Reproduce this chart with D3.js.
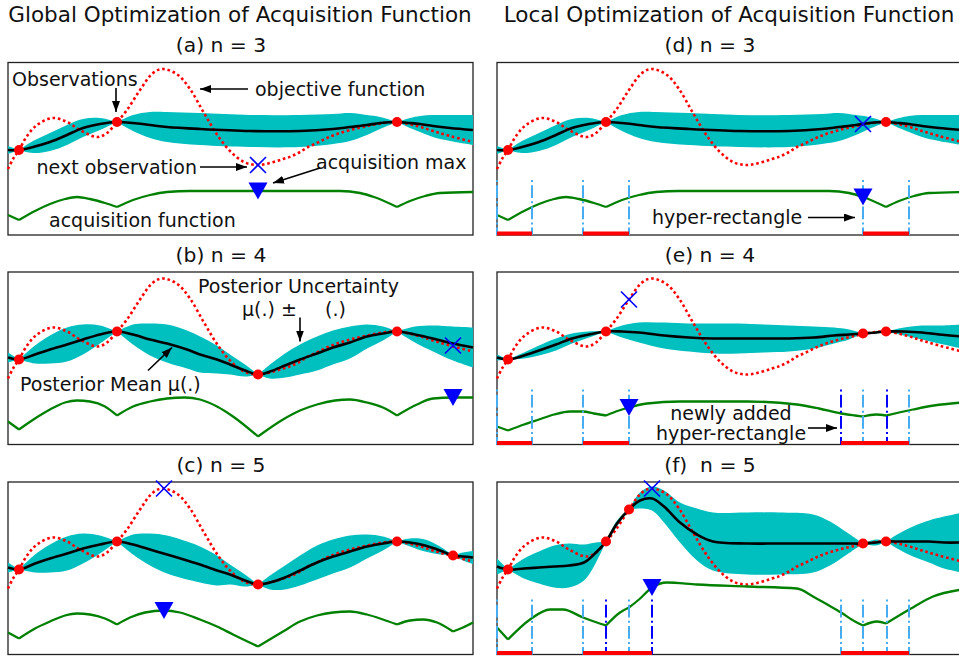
<!DOCTYPE html>
<html lang="en">
<head>
<meta charset="UTF-8">
<title>Global vs Local Optimization of Acquisition Function</title>
<script src="https://d3js.org/d3.v7.min.js"></script>
<style>
    body { margin: 0; background: #fff; }
    #canvas { display: block; font-family: "DejaVu Sans", sans-serif; }
</style>
</head>
<body>
<svg id="canvas" width="959" height="658"></svg>
<script>
// objective function, shared by all panels: [x, f(x)]
const objective = [[0,.66],[.05,.76],[.11,.85],[.19,.99],[.29,1.10],[.45,1.17],[.59,1.13],[.72,1.05],[.89,.98],[.99,1.02],
    [1.09,1.13],[1.19,1.25],[1.32,1.45],[1.45,1.62],[1.55,1.66],[1.70,1.60],[1.82,1.46],[1.96,1.22],[2.10,.99],[2.23,.83],
    [2.36,.73],[2.49,.70],[2.62,.72],[2.75,.76],[2.84,.79],[2.92,.83],[3.00,.88],[3.09,.92],[3.19,.97],[3.29,1.01],
    [3.42,1.05],[3.55,1.08],[3.69,1.11],[3.89,1.13],[4.09,1.09],[4.25,1.04],[4.42,.99],[4.65,.93]];

// posterior: [x, mean, std]
const gpA = [[0,.85,.04],[.11,.85,0],[.25,.88,.06],[.42,.93,.09],[.59,1.00,.10],[.75,1.07,.09],[.92,1.11,.06],[1.09,1.13,0],
    [1.25,1.12,.08],[1.42,1.10,.13],[1.59,1.08,.15],[1.92,1.06,.16],[2.42,1.04,.16],[2.92,1.04,.16],[3.25,1.06,.15],[3.42,1.08,.14],
    [3.59,1.10,.10],[3.72,1.12,.06],[3.89,1.13,0],[4.02,1.12,.05],[4.12,1.11,.08],[4.25,1.09,.11],[4.42,1.07,.13],[4.65,1.05,.15]];
const gpB = [[0,.87,.05],[.11,.85,0],[.27,.90,.09],[.42,.95,.14],[.59,1.00,.17],[.75,1.05,.15],[.92,1.10,.09],[1.09,1.13,0],
    [1.25,1.10,.10],[1.42,1.05,.16],[1.59,1.01,.19],[1.79,.95,.19],[1.92,.90,.18],[2.09,.85,.14],[2.22,.80,.10],[2.37,.74,.06],
    [2.50,.70,0],[2.62,.73,.07],[2.77,.79,.12],[2.92,.85,.15],[3.09,.91,.17],[3.25,.97,.17],[3.42,1.02,.16],[3.59,1.08,.12],
    [3.75,1.11,.07],[3.89,1.13,0],[4.07,1.10,.08],[4.25,1.06,.13],[4.45,1.01,.17],[4.65,.97,.20]];
const gpC = [[0,.87,.05],[.11,.85,0],[.27,.91,.09],[.42,.96,.14],[.59,1.01,.17],[.75,1.06,.15],[.92,1.10,.09],[1.09,1.13,0],
    [1.25,1.10,.10],[1.42,1.05,.16],[1.59,1.00,.19],[1.79,.94,.19],[1.92,.90,.18],[2.09,.84,.15],[2.22,.80,.10],[2.37,.74,.06],
    [2.50,.70,0],[2.62,.72,.07],[2.77,.77,.12],[2.92,.84,.15],[3.09,.92,.17],[3.25,.98,.17],[3.42,1.03,.16],[3.59,1.08,.12],
    [3.75,1.11,.07],[3.89,1.13,0],[4.02,1.12,.04],[4.17,1.09,.06],[4.32,1.04,.04],[4.45,.99,0],[4.55,.98,.04],[4.65,.97,.065]];
const gpE = [[0,.87,.03],[.11,.85,0],[.27,.89,.03],[.42,.94,.05],[.59,1.00,.06],[.75,1.06,.05],[.92,1.10,.03],[1.09,1.13,0],
    [1.25,1.13,.06],[1.42,1.12,.10],[1.67,1.09,.13],[1.92,1.07,.14],[2.17,1.06,.15],[2.42,1.06,.15],[2.67,1.06,.14],[2.92,1.06,.13],
    [3.17,1.07,.11],[3.37,1.09,.08],[3.52,1.10,.05],[3.66,1.11,0],[3.79,1.12,.01],[3.89,1.13,0],[4.07,1.13,.04],[4.25,1.12,.07],
    [4.42,1.10,.09],[4.65,1.08,.12]];
const gpF = [[0,.88,.08],[.11,.85,0],[.27,.86,.10],[.42,.87,.16],[.57,.88,.21],[.72,.89,.22],[.87,.92,.18],[.99,1.02,.10],
    [1.09,1.13,0],[1.20,1.31,.03],[1.32,1.45,0],[1.43,1.54,.08],[1.55,1.56,.12],[1.67,1.48,.16],[1.83,1.32,.20],[2.00,1.20,.26],
    [2.16,1.13,.29],[2.50,1.11,.31],[2.82,1.11,.31],[3.16,1.11,.29],[3.33,1.11,.22],[3.50,1.11,.11],[3.66,1.11,0],[3.79,1.12,.03],
    [3.89,1.13,0],[4.02,1.13,.08],[4.16,1.13,.15],[4.32,1.13,.21],[4.47,1.12,.26],[4.65,1.12,.30]];

// acquisition function: [x, a(x)]
const acqA = [[0,.20],[.11,.15],[.27,.24],[.42,.31],[.57,.36],[.69,.38],[.82,.36],[.97,.32],[1.09,.28],[1.25,.35],[1.42,.40],
    [1.59,.43],[1.82,.44],[2.42,.44],[3.32,.44],[3.52,.42],[3.66,.38],[3.89,.28],[4.02,.34],[4.17,.39],[4.32,.42],[4.65,.43]];
const acqB = [[0,.23],[.11,.15],[.27,.26],[.42,.35],[.57,.42],[.69,.44],[.82,.43],[.97,.38],[1.09,.29],[1.25,.38],[1.42,.43],
    [1.59,.46],[1.77,.47],[1.92,.45],[2.09,.38],[2.25,.28],[2.50,.08],[2.75,.25],[2.92,.34],[3.09,.40],[3.27,.44],[3.42,.45],
    [3.59,.42],[3.75,.37],[3.89,.29],[4.09,.40],[4.25,.46],[4.45,.47],[4.65,.47]];
const acqC = [[0,.22],[.11,.16],[.27,.26],[.42,.33],[.57,.39],[.69,.41],[.82,.40],[.97,.36],[1.09,.30],[1.22,.37],[1.37,.42],
    [1.56,.44],[1.72,.42],[1.92,.35],[2.09,.28],[2.25,.20],[2.50,.08],[2.75,.23],[2.92,.33],[3.09,.39],[3.25,.42],[3.42,.43],
    [3.59,.40],[3.75,.35],[3.89,.30],[4.02,.34],[4.15,.35],[4.29,.32],[4.45,.23],[4.55,.27],[4.65,.32]];
const acqE = [[0,.18],[.11,.14],[.27,.20],[.42,.25],[.57,.30],[.73,.33],[.86,.33],[.97,.31],[1.09,.29],[1.22,.34],[1.32,.37],
    [1.50,.41],[1.83,.43],[2.50,.43],[3.00,.40],[3.22,.36],[3.44,.31],[3.58,.29],[3.66,.28],[3.79,.30],[3.89,.29],[4.02,.32],
    [4.16,.35],[4.37,.39],[4.65,.42]];
const acqF = [[0,.27],[.11,.15],[.33,.35],[.53,.45],[.66,.45],[.86,.37],[.97,.33],[1.09,.29],[1.23,.42],[1.32,.47],[1.42,.55],
    [1.55,.67],[1.70,.72],[2.00,.70],[2.50,.68],[3.00,.66],[3.16,.58],[3.32,.49],[3.44,.42],[3.58,.33],[3.66,.29],[3.80,.33],
    [3.89,.31],[4.14,.46],[4.36,.58],[4.65,.65]];

// observations
const obsA = [[.11,.85],[1.09,1.13],[3.89,1.13]];
const obsB = [[.11,.85],[1.09,1.13],[2.50,.70],[3.89,1.13]];
const obsC = [[.11,.85],[1.09,1.13],[2.50,.70],[3.89,1.13],[4.45,.99]];
const obsE = [[.11,.85],[1.09,1.13],[3.66,1.11],[3.89,1.13]];
const obsF = [[.11,.85],[1.09,1.13],[1.32,1.45],[3.66,1.11],[3.89,1.13]];

// next observation (x) and acquisition max (triangle)
const nextPts = {a:[2.50,.70], b:[4.45,.99], c:[1.56,1.66], d:[3.66,1.11], e:[1.32,1.45], f:[1.55,1.66]};
const acqMax  = {a:[2.50,.44], b:[4.45,.47], c:[1.56,.44], d:[3.66,.38], e:[1.32,.37], f:[1.55,.67]};

// hyper-rectangles [lo, hi]
const rectsD = [[0,.35],[.86,1.32],[3.66,4.12]];
const rectsE = [[0,.35],[.86,1.32],[3.66,4.12]];
const newE   = [[3.44,3.90]];
const rectsF = [[0,.35],[.86,1.32],[3.44,3.90],[3.66,4.12]];
const newF   = [[1.09,1.55]];

const titles = ['Global Optimization of Acquisition Function', 'Local Optimization of Acquisition Function'];

const svg = d3.select('#canvas');
const defs = svg.append('defs');
defs.append('marker')
    .attr('id', 'arrow')
    .attr('viewBox', '0 0 11 8')
    .attr('refX', 11).attr('refY', 4)
    .attr('markerWidth', 11).attr('markerHeight', 8)
    .attr('markerUnits', 'userSpaceOnUse')
    .attr('orient', 'auto')
    .append('path').attr('d', 'M0,0L11,4L0,8Z').attr('fill', '#000');

const colLeft = [8, 497];
const rowTop = [62.5, 272, 482];
const panelW = 465, panelH = 172.5;
const lightBlue = '#48acf2';

const panels = [
    {key:'a', row:0, col:0, label:'(a) n = 3', gp:gpA, obs:obsA, acq:acqA},
    {key:'b', row:1, col:0, label:'(b) n = 4', gp:gpB, obs:obsB, acq:acqB},
    {key:'c', row:2, col:0, label:'(c) n = 5', gp:gpC, obs:obsC, acq:acqC},
    {key:'d', row:0, col:1, label:'(d) n = 3', gp:gpA, obs:obsA, acq:acqA, rects:rectsD, fresh:[]},
    {key:'e', row:1, col:1, label:'(e) n = 4', gp:gpE, obs:obsE, acq:acqE, rects:rectsE, fresh:newE},
    {key:'f', row:2, col:1, label:'(f)  n = 5', gp:gpF, obs:obsF, acq:acqF, rects:rectsF, fresh:newF}
];

// annotations, in data units of each panel
const notes = {
    a: {texts:[['Observations',.04,1.56,'start'],['objective function',2.47,1.46,'start'],
               ['next observation',1.89,.68,'end'],['acquisition max',3.08,.73,'start'],
               ['acquisition function',.41,.15,'start']],
        arrows:[[[1.08,1.47],[1.08,1.23]],[[2.40,1.46],[1.92,1.46]],[[1.92,.68],[2.39,.68]],[[3.12,.67],[2.65,.52]]]},
    b: {texts:[['Posterior Uncertainty',1.90,1.58,'start'],['μ(.) ±',2.34,1.35,'start'],['(.)',3.17,1.35,'start'],
               ['Posterior Mean μ(.)',.12,.60,'start']],
        arrows:[[[2.92,1.27],[2.92,1.03]],[[1.40,.74],[1.64,.97]]]},
    d: {texts:[['hyper-rectangle',1.55,.175,'start']], arrows:[[[3.11,.175],[3.58,.175]]]},
    e: {texts:[['newly added',2.34,.315,'middle'],['hyper-rectangle',2.34,.115,'middle']],
        arrows:[[[3.11,.165],[3.40,.165]]]}
};

// split a series into pieces at the observation points (cusps)
function splitAt(data, cuts) {
    const segs = [];
    let cur = [];
    data.forEach(p => {
        cur.push(p);
        if (cur.length > 1 && cuts.some(c => Math.abs(c - p[0]) < 0.006)) {
            segs.push(cur);
            cur = [p];
        }
    });
    if (cur.length > 1) segs.push(cur);
    return segs;
}

titles.forEach((t, i) => {
    svg.append('text')
        .attr('x', colLeft[i] + 232).attr('y', 22)
        .attr('text-anchor', 'middle')
        .attr('font-size', 21.5).attr('fill', '#111')
        .text(t);
});

panels.forEach(p => {
    const x0 = colLeft[p.col], y0 = rowTop[p.row];
    const x = d3.scaleLinear().domain([0, 4.65]).range([x0, x0 + panelW]);
    const y = d3.scaleLinear().domain([0, 1.725]).range([y0 + panelH, y0]);
    const g = svg.append('g').attr('id', 'panel-' + p.key);
    const cuts = p.obs.map(d => d[0]);

    svg.append('text')
        .attr('x', x0 + 213).attr('y', y0 - 10.5)
        .attr('text-anchor', 'middle')
        .attr('font-size', 20.3).attr('fill', '#111')
        .style('white-space', 'pre')
        .text(p.label);

    g.append('rect')
        .attr('x', x0).attr('y', y0)
        .attr('width', panelW).attr('height', panelH)
        .attr('fill', 'none').attr('stroke', '#222').attr('stroke-width', 1.3);

    // posterior uncertainty band
    const band = d3.area()
        .x(d => x(d[0]))
        .y0(d => y(d[1] - d[2]))
        .y1(d => y(d[1] + d[2]))
        .curve(d3.curveCatmullRom.alpha(0.5));
    splitAt(p.gp, cuts).forEach(seg => {
        g.append('path').attr('d', band(seg)).attr('fill', '#00bfbf');
    });

    // objective function
    g.append('path')
        .attr('d', d3.line().x(d => x(d[0])).y(d => y(d[1])).curve(d3.curveCatmullRom.alpha(0.5))(objective))
        .attr('fill', 'none').attr('stroke', 'red')
        .attr('stroke-width', 2.6).attr('stroke-dasharray', '2.6 2.8');

    // posterior mean
    g.append('path')
        .attr('d', d3.line().x(d => x(d[0])).y(d => y(d[1])).curve(d3.curveCatmullRom.alpha(0.5))(p.gp))
        .attr('fill', 'none').attr('stroke', '#000').attr('stroke-width', 2.6);

    // acquisition function
    const acqLine = d3.line().x(d => x(d[0])).y(d => y(d[1])).curve(d3.curveMonotoneX);
    splitAt(p.acq, cuts).forEach(seg => {
        g.append('path').attr('d', acqLine(seg))
            .attr('fill', 'none').attr('stroke', 'green').attr('stroke-width', 2.3);
    });

    // hyper-rectangles
    if (p.rects) {
        const edges = [];
        p.rects.forEach(r => { edges.push([r[0], lightBlue]); edges.push([r[1], lightBlue]); });
        p.fresh.forEach(r => { edges.push([r[0], 'blue']); edges.push([r[1], 'blue']); });
        g.selectAll(null).data(edges).enter().append('line')
            .attr('x1', d => x(d[0])).attr('x2', d => x(d[0]))
            .attr('y1', y(.55)).attr('y2', y(0))
            .attr('stroke', d => d[1]).attr('stroke-width', 2)
            .attr('stroke-dasharray', '2 3.2 12.8 3.2');
        g.selectAll(null).data(p.rects.concat(p.fresh)).enter().append('line')
            .attr('x1', d => x(d[0])).attr('x2', d => x(d[1]))
            .attr('y1', y(.014)).attr('y2', y(.014))
            .attr('stroke', 'red').attr('stroke-width', 4);
    }

    // observations
    g.selectAll(null).data(p.obs).enter().append('circle')
        .attr('cx', d => x(d[0])).attr('cy', d => y(d[1]))
        .attr('r', 5).attr('fill', 'red');

    // next observation
    const nx = nextPts[p.key];
    g.append('path')
        .attr('transform', `translate(${x(nx[0])},${y(nx[1])})`)
        .attr('d', 'M-8,-8L8,8M-8,8L8,-8')
        .attr('stroke', 'blue').attr('stroke-width', 1.6).attr('fill', 'none');

    // acquisition maximum
    const am = acqMax[p.key];
    g.append('path')
        .attr('transform', `translate(${x(am[0])},${y(am[1])})`)
        .attr('d', 'M-9.5,-8.5L9.5,-8.5L0,8.5Z')
        .attr('fill', 'blue');

    // annotations
    const n = notes[p.key];
    if (n) {
        n.texts.forEach(t => {
            g.append('text')
                .attr('x', x(t[1])).attr('y', y(t[2])).attr('dy', '0.35em')
                .attr('text-anchor', t[3])
                .attr('font-size', 19).attr('fill', '#111')
                .text(t[0]);
        });
        n.arrows.forEach(a => {
            g.append('line')
                .attr('x1', x(a[0][0])).attr('y1', y(a[0][1]))
                .attr('x2', x(a[1][0])).attr('y2', y(a[1][1]))
                .attr('stroke', '#000').attr('stroke-width', 1.6)
                .attr('marker-end', 'url(#arrow)');
        });
    }
});
</script>
</body>
</html>
